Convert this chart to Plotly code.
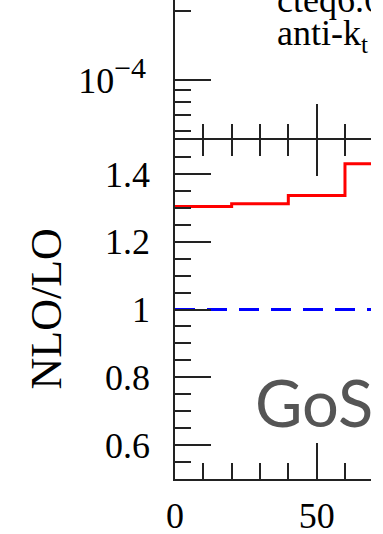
import plotly.graph_objects as go

# ---- data ----
bin_edges = [0, 20, 40, 60, 80]
ratio_nlo_lo = [1.304, 1.312, 1.336, 1.43]
ref_line_x = [0, 80]
ref_line_y = [1.0, 1.0]
ratio_tickvals = [0.6, 0.8, 1.0, 1.2, 1.4]
ratio_ticktext = ["0.6", "0.8", "1", "1.2", "1.4"]
x_tickvals = [0, 50]
x_ticktext = ["0", "50"]
top_tickvals = [1e-4]
top_ticktext = ["10<sup><span style='font-size:30px'>−4</span></sup>"]
top_minor = [6e-5, 7e-5, 8e-5, 9e-5, 2e-4, 3e-4]

SERIF = "Liberation Serif"
AX = "#222222"

fig = go.Figure()

step_y = ratio_nlo_lo + [ratio_nlo_lo[-1]]
fig.add_trace(go.Scatter(x=bin_edges, y=step_y, mode="lines", line_shape="hv",
                         line=dict(color="#ff0000", width=3), xaxis="x", yaxis="y",
                         showlegend=False, hoverinfo="skip"))
fig.add_trace(go.Scatter(x=ref_line_x, y=ref_line_y, mode="lines",
                         line=dict(color="#0000ff", width=3, dash="20px,12px"),
                         xaxis="x", yaxis="y", showlegend=False, hoverinfo="skip"))
# invisible trace to activate top panel
fig.add_trace(go.Scatter(x=[0], y=[1e-3], mode="markers", marker=dict(opacity=0),
                         xaxis="x2", yaxis="y2", showlegend=False, hoverinfo="skip"))

split = 339 / 479
xr = [0, 196 / 2.833]

common_x = dict(range=xr, linecolor=AX, linewidth=1.5,
                ticks="inside", ticklen=36, tickwidth=1.5, tickcolor=AX,
                tickvals=x_tickvals, showgrid=False, zeroline=False,
                automargin=False,
                minor=dict(dtick=10, tick0=0, ticks="inside", ticklen=16,
                           tickwidth=1.5, tickcolor=AX, showgrid=False))

fig.update_layout(
    width=371, height=534,
    margin=dict(l=175, r=0, t=0, b=55, autoexpand=False),
    paper_bgcolor="white", plot_bgcolor="white",
    xaxis=dict(common_x, domain=[0, 1], anchor="y", mirror="ticks", showline=True,
               ticktext=x_ticktext, ticklabelstandoff=4,
               tickfont=dict(family=SERIF, size=36, color="black")),
    yaxis=dict(domain=[0, split], anchor="x", range=[0.5, 1.5],
               showline=True, linecolor=AX, linewidth=1.5, automargin=False,
               ticks="inside", ticklen=36, tickwidth=1.5, tickcolor=AX,
               tickvals=ratio_tickvals, ticktext=ratio_ticktext,
               ticklabelstandoff=16, showgrid=False, zeroline=False,
               tickfont=dict(family=SERIF, size=36, color="black"),
               minor=dict(dtick=0.05, tick0=0.5, ticks="inside", ticklen=16,
                          tickwidth=1.5, tickcolor=AX, showgrid=False)),
    xaxis2=dict(common_x, domain=[0, 1], anchor="y2", showline=False,
                showticklabels=False),
    yaxis2=dict(domain=[split, 1], anchor="x2", type="log",
                range=[-4.263, -3.649], automargin=False,
                showline=True, linecolor=AX, linewidth=1.5,
                ticks="inside", ticklen=36, tickwidth=1.5, tickcolor=AX,
                tickvals=top_tickvals, ticktext=top_ticktext,
                ticklabelstandoff=20, showgrid=False, zeroline=False,
                tickfont=dict(family=SERIF, size=36, color="black"),
                minor=dict(tickvals=top_minor, ticks="inside", ticklen=16,
                           tickwidth=1.5, tickcolor=AX, showgrid=False)),
    annotations=[
        dict(text="NLO/LO", xref="paper", yref="paper", x=(46 - 175) / 196,
             y=split / 2, textangle=-90, showarrow=False, xanchor="center",
             yanchor="middle", font=dict(family=SERIF, size=44, color="black")),
        dict(text="GoSam", xref="paper", yref="paper", x=(255 - 175) / 196 - 0.01,
             y=(479 - 402) / 479, showarrow=False, xanchor="left", yanchor="middle",
             font=dict(family="Lato", size=65, color="#555555")),
        dict(text="cteq6.6", xref="paper", yref="paper", x=(277 - 175) / 196 - 0.01,
             y=(479 - 0) / 479, showarrow=False, xanchor="left", yanchor="middle",
             font=dict(family=SERIF, size=36, color="black")),
        dict(text="anti-k<sub>t</sub>", xref="paper", yref="paper",
             x=(277 - 175) / 196 - 0.01,
             y=(479 - 36) / 479, showarrow=False, xanchor="left", yanchor="middle",
             font=dict(family=SERIF, size=36, color="black")),
    ],
)

fig.write_html("out.html")
